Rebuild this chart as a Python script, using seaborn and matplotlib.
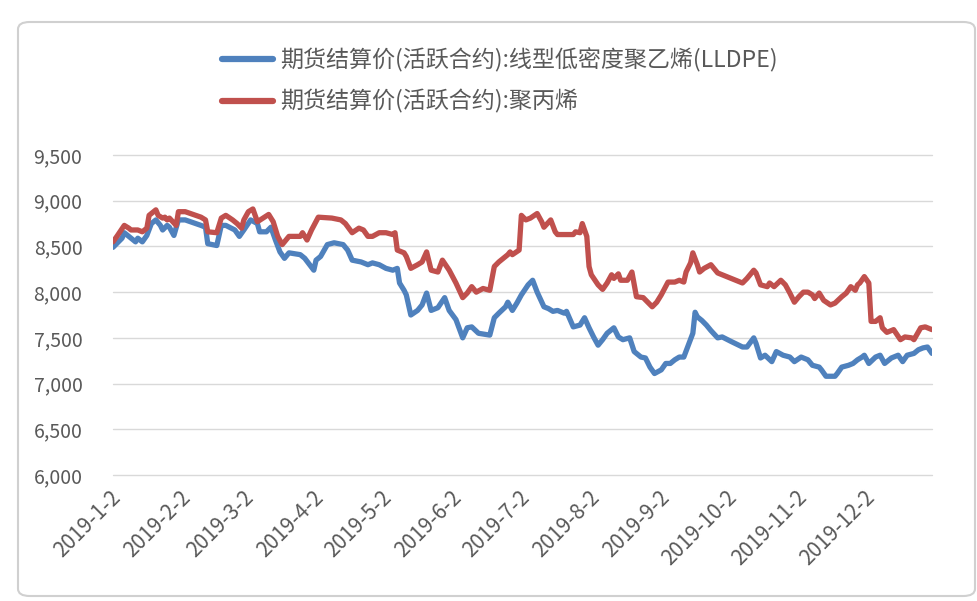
import matplotlib
matplotlib.use("Agg")
import matplotlib.pyplot as plt
import matplotlib.dates as mdates
import matplotlib.transforms as mtransforms
from matplotlib.patches import FancyBboxPatch
import pandas as pd
import seaborn as sns

# ---------------- data ----------------
series_names = ["期货结算价(活跃合约):线型低密度聚乙烯(LLDPE)", "期货结算价(活跃合约):聚丙烯"]

lldpe_dates = [
    "2019-01-02", "2019-01-06", "2019-01-07", "2019-01-09", "2019-01-12", "2019-01-13", "2019-01-15",
    "2019-01-17", "2019-01-19", "2019-01-21", "2019-01-23", "2019-01-24", "2019-01-26", "2019-01-27",
    "2019-01-29", "2019-01-31", "2019-02-03", "2019-02-10", "2019-02-12", "2019-02-13", "2019-02-17",
    "2019-02-19", "2019-02-21", "2019-02-25", "2019-02-27", "2019-03-01", "2019-03-04", "2019-03-07",
    "2019-03-08", "2019-03-11", "2019-03-13", "2019-03-15", "2019-03-17", "2019-03-19", "2019-03-21",
    "2019-03-26", "2019-03-28", "2019-04-01", "2019-04-02", "2019-04-04", "2019-04-07", "2019-04-10",
    "2019-04-14", "2019-04-16", "2019-04-18", "2019-04-22", "2019-04-25", "2019-04-27", "2019-04-30",
    "2019-05-03", "2019-05-06", "2019-05-08", "2019-05-09", "2019-05-11", "2019-05-12", "2019-05-14",
    "2019-05-17", "2019-05-19", "2019-05-21", "2019-05-23", "2019-05-26", "2019-05-29", "2019-05-31",
    "2019-06-03", "2019-06-06", "2019-06-08", "2019-06-10", "2019-06-13", "2019-06-18", "2019-06-20",
    "2019-06-22", "2019-06-25", "2019-06-26", "2019-06-28", "2019-06-30", "2019-07-02", "2019-07-05",
    "2019-07-07", "2019-07-09", "2019-07-12", "2019-07-14", "2019-07-16", "2019-07-18", "2019-07-21",
    "2019-07-22", "2019-07-25", "2019-07-28", "2019-07-30", "2019-08-01", "2019-08-03", "2019-08-05",
    "2019-08-07", "2019-08-09", "2019-08-12", "2019-08-14", "2019-08-16", "2019-08-19", "2019-08-21",
    "2019-08-24", "2019-08-26", "2019-08-28", "2019-08-30", "2019-09-02", "2019-09-04", "2019-09-06",
    "2019-09-08", "2019-09-10", "2019-09-12", "2019-09-14", "2019-09-16", "2019-09-17", "2019-09-18",
    "2019-09-20", "2019-09-22", "2019-09-24", "2019-09-27", "2019-09-29", "2019-10-03", "2019-10-08",
    "2019-10-10", "2019-10-13", "2019-10-14", "2019-10-16", "2019-10-18", "2019-10-21", "2019-10-23",
    "2019-10-26", "2019-10-29", "2019-10-31", "2019-11-03", "2019-11-06", "2019-11-08", "2019-11-11",
    "2019-11-12", "2019-11-14", "2019-11-18", "2019-11-19", "2019-11-21", "2019-11-24", "2019-11-26",
    "2019-11-28", "2019-11-30", "2019-12-01", "2019-12-03", "2019-12-06", "2019-12-08", "2019-12-10",
    "2019-12-13", "2019-12-16", "2019-12-18", "2019-12-20", "2019-12-23", "2019-12-25", "2019-12-27",
    "2019-12-29", "2019-12-31",
]
lldpe_values = [
    8490, 8590, 8650, 8610, 8550, 8590, 8550,
    8620, 8750, 8790, 8730, 8680, 8730, 8710,
    8620, 8790, 8790, 8730, 8710, 8530, 8510,
    8730, 8730, 8680, 8610, 8680, 8790, 8750,
    8660, 8660, 8710, 8570, 8440, 8370, 8430,
    8410, 8370, 8240, 8350, 8390, 8520, 8540,
    8520, 8460, 8350, 8330, 8300, 8320, 8300,
    8260, 8240, 8260, 8100, 8020, 7970, 7750,
    7800, 7860, 7990, 7800, 7830, 7940, 7800,
    7700, 7500, 7610, 7620, 7550, 7530, 7720,
    7770, 7840, 7890, 7800, 7880, 7970, 8080,
    8130, 8000, 7840, 7820, 7790, 7800, 7770,
    7790, 7620, 7640, 7720, 7610, 7510, 7420,
    7480, 7550, 7610, 7510, 7480, 7500, 7350,
    7290, 7280, 7180, 7110, 7150, 7220, 7220,
    7260, 7290, 7290, 7420, 7550, 7780, 7730,
    7690, 7640, 7580, 7500, 7510, 7460, 7400,
    7400, 7500, 7440, 7280, 7310, 7240, 7350,
    7310, 7290, 7240, 7290, 7260, 7200, 7180,
    7150, 7080, 7080, 7110, 7180, 7200, 7220,
    7260, 7290, 7310, 7220, 7290, 7310, 7220,
    7280, 7310, 7240, 7310, 7330, 7370, 7390,
    7400, 7330,
]

pp_dates = [
    "2019-01-02", "2019-01-04", "2019-01-07", "2019-01-09", "2019-01-10", "2019-01-13", "2019-01-15",
    "2019-01-17", "2019-01-18", "2019-01-21", "2019-01-22", "2019-01-24", "2019-01-25", "2019-01-26",
    "2019-01-27", "2019-01-30", "2019-01-31", "2019-02-03", "2019-02-10", "2019-02-12", "2019-02-13",
    "2019-02-17", "2019-02-19", "2019-02-21", "2019-02-24", "2019-02-26", "2019-02-28", "2019-03-01",
    "2019-03-03", "2019-03-05", "2019-03-07", "2019-03-12", "2019-03-14", "2019-03-16", "2019-03-18",
    "2019-03-21", "2019-03-26", "2019-03-27", "2019-03-29", "2019-03-31", "2019-04-03", "2019-04-09",
    "2019-04-13", "2019-04-15", "2019-04-18", "2019-04-21", "2019-04-23", "2019-04-25", "2019-04-27",
    "2019-04-30", "2019-05-03", "2019-05-06", "2019-05-07", "2019-05-08", "2019-05-11", "2019-05-12",
    "2019-05-14", "2019-05-17", "2019-05-19", "2019-05-21", "2019-05-23", "2019-05-26", "2019-05-28",
    "2019-05-31", "2019-06-03", "2019-06-06", "2019-06-08", "2019-06-10", "2019-06-12", "2019-06-15",
    "2019-06-18", "2019-06-20", "2019-06-22", "2019-06-23", "2019-06-26", "2019-06-27", "2019-06-28",
    "2019-07-01", "2019-07-02", "2019-07-04", "2019-07-06", "2019-07-09", "2019-07-11", "2019-07-12",
    "2019-07-15", "2019-07-17", "2019-07-18", "2019-07-22", "2019-07-25", "2019-07-26", "2019-07-28",
    "2019-07-29", "2019-07-31", "2019-08-01", "2019-08-02", "2019-08-05", "2019-08-07", "2019-08-09",
    "2019-08-11", "2019-08-12", "2019-08-14", "2019-08-15", "2019-08-18", "2019-08-20", "2019-08-22",
    "2019-08-25", "2019-08-29", "2019-08-31", "2019-09-02", "2019-09-05", "2019-09-08", "2019-09-10",
    "2019-09-12", "2019-09-13", "2019-09-15", "2019-09-16", "2019-09-18", "2019-09-19", "2019-09-21",
    "2019-09-24", "2019-09-27", "2019-10-03", "2019-10-08", "2019-10-10", "2019-10-13", "2019-10-14",
    "2019-10-16", "2019-10-19", "2019-10-20", "2019-10-22", "2019-10-25", "2019-10-27", "2019-10-29",
    "2019-10-31", "2019-11-02", "2019-11-04", "2019-11-06", "2019-11-08", "2019-11-09", "2019-11-11",
    "2019-11-13", "2019-11-16", "2019-11-18", "2019-11-21", "2019-11-23", "2019-11-25", "2019-11-27",
    "2019-11-28", "2019-11-29", "2019-12-01", "2019-12-03", "2019-12-04", "2019-12-06", "2019-12-08",
    "2019-12-09", "2019-12-11", "2019-12-14", "2019-12-17", "2019-12-19", "2019-12-22", "2019-12-23",
    "2019-12-26", "2019-12-28", "2019-12-31",
]
pp_values = [
    8550, 8620, 8730, 8700, 8680, 8680, 8660,
    8700, 8840, 8900, 8840, 8810, 8820, 8790,
    8810, 8730, 8880, 8880, 8820, 8790, 8660,
    8650, 8810, 8840, 8790, 8750, 8700, 8790,
    8880, 8910, 8770, 8850, 8770, 8610, 8520,
    8610, 8610, 8650, 8570, 8680, 8820, 8810,
    8790, 8750, 8650, 8700, 8680, 8610, 8610,
    8650, 8650, 8630, 8650, 8460, 8430, 8390,
    8260, 8300, 8330, 8440, 8240, 8220, 8350,
    8240, 8100, 7940, 7990, 8060, 8000, 8040,
    8020, 8280, 8330, 8350, 8410, 8440, 8410,
    8460, 8840, 8790, 8810, 8860, 8770, 8710,
    8790, 8660, 8630, 8630, 8630, 8660, 8650,
    8750, 8610, 8280, 8190, 8080, 8030, 8100,
    8190, 8150, 8200, 8130, 8130, 8220, 7950,
    7940, 7840, 7890, 7970, 8110, 8110, 8130,
    8110, 8220, 8320, 8430, 8300, 8220, 8260,
    8300, 8210, 8150, 8100, 8150, 8240, 8210,
    8080, 8060, 8100, 8060, 8130, 8080, 7990,
    7890, 7950, 8000, 8000, 7970, 7930, 7990,
    7910, 7860, 7880, 7950, 7990, 8060, 8020,
    8080, 8100, 8170, 8100, 7680, 7680, 7720,
    7610, 7560, 7590, 7480, 7510, 7500, 7480,
    7610, 7620, 7590,
]

y_ticks = [6000, 6500, 7000, 7500, 8000, 8500, 9000, 9500]
x_start, x_end = "2019-01-02", "2019-12-31"

line_colors = ["#4F81BD", "#C0504D"]
text_color = "#595959"
grid_color = "#D9D9D9"

# ---------------- build table ----------------
df = pd.concat([
    pd.DataFrame({"date": pd.to_datetime(lldpe_dates), "value": lldpe_values, "series": series_names[0]}),
    pd.DataFrame({"date": pd.to_datetime(pp_dates), "value": pp_values, "series": series_names[1]}),
], ignore_index=True)

# ---------------- plot ----------------
sns.set_theme(style="white")
plt.rcParams["font.family"] = ["Noto Sans CJK SC", "DejaVu Sans"]

W, H = 978, 601
fig = plt.figure(figsize=(W / 100, H / 100), dpi=100)
fig.patch.set_facecolor("white")

# chart-area frame (Excel style)
frame = FancyBboxPatch((18 / W, 5 / H), 957 / W, 574 / H,
                       boxstyle="round,pad=0,rounding_size=0.012",
                       transform=fig.transFigure, fc="none", ec="#D0D0D0", lw=1.5)
fig.patches.append(frame)

left, right, top, bottom = 113, 932, 155, 475
ax = fig.add_axes([left / W, 1 - bottom / H, (right - left) / W, (bottom - top) / H])

sns.lineplot(data=df, x="date", y="value", hue="series", hue_order=series_names,
             palette=line_colors, linewidth=3.8, estimator=None, ax=ax,
             solid_capstyle="round", solid_joinstyle="round")

ax.set_xlim(pd.Timestamp(x_start), pd.Timestamp(x_end))
ax.set_ylim(y_ticks[0], y_ticks[-1])
ax.set_yticks(y_ticks)
ax.set_yticklabels([f"{v:,}" for v in y_ticks])

ax.xaxis.set_major_locator(mdates.MonthLocator(bymonthday=2))
ax.xaxis.set_major_formatter(plt.FuncFormatter(
    lambda x, pos: (lambda d: f"{d.year}-{d.month}-{d.day}")(mdates.num2date(x))))

ax.set_xlabel("")
ax.set_ylabel("")
for s in ax.spines.values():
    s.set_visible(False)
ax.grid(axis="y", color=grid_color, lw=1.0)
ax.grid(axis="x", visible=False)
for gl in ax.get_ygridlines():
    gl.set_clip_on(False)
ax.set_axisbelow(True)

ax.tick_params(axis="y", length=0, pad=22, labelsize=14, labelcolor=text_color)
ax.tick_params(axis="x", length=0, pad=8, labelsize=15, labelcolor=text_color)
offset = mtransforms.ScaledTranslation(-3 / 100, 0, fig.dpi_scale_trans)
for lab in ax.get_xticklabels():
    lab.set_rotation(45)
    lab.set_ha("right")
    lab.set_rotation_mode("anchor")
    lab.set_transform(lab.get_transform() + offset)

handles, labels = ax.get_legend_handles_labels()
if ax.get_legend() is not None:
    ax.get_legend().remove()
leg = fig.legend(handles, labels, loc="center", bbox_to_anchor=(500 / W, 1 - 81 / H),
                 frameon=False, fontsize=16.6, handlelength=2.2, handletextpad=0.3,
                 labelspacing=0.75, borderpad=0)
for t in leg.get_texts():
    t.set_color(text_color)
for h in leg.get_lines():
    h.set_linewidth(4.5)

fig.savefig("out.png", dpi=100, facecolor="white")
